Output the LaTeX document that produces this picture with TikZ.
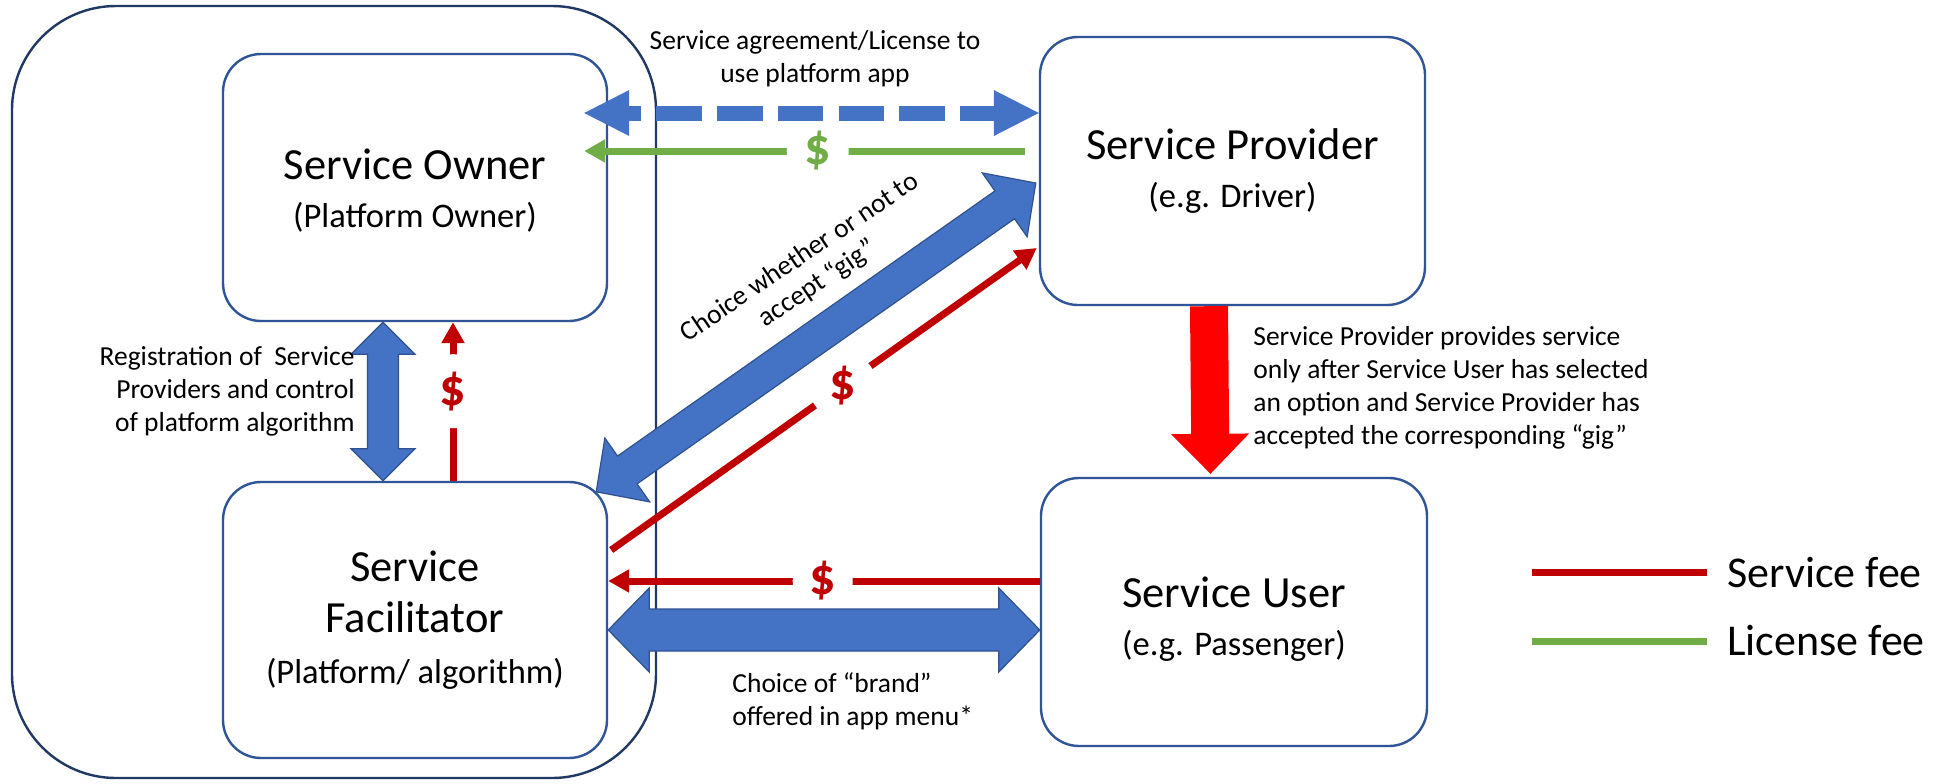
\documentclass[tikz,border=0pt]{standalone}
\usepackage{fontspec}
\setmainfont{Carlito}
\usetikzlibrary{arrows.meta,calc}

\definecolor{arrowblue}{HTML}{4472C4}
\definecolor{arrowedge}{HTML}{2F528F}
\definecolor{boxedge}{HTML}{2F5597}
\definecolor{outeredge}{HTML}{203864}
\definecolor{feered}{HTML}{C00000}
\definecolor{licgreen}{HTML}{70AD47}
\definecolor{bigred}{HTML}{FF0000}

\newcommand{\boxsub}{\fontsize{17.25pt}{24pt}\selectfont}

\tikzset{
  actor/.style={draw=boxedge, line width=1.2pt, fill=white, rounded corners=19pt,
    align=center, inner sep=0pt, font=\fontsize{22.25pt}{24pt}\selectfont},
  platformbox/.style={draw=outeredge, line width=1.2pt, rounded corners=52pt, inner sep=0pt},
  note/.style={inner sep=0pt, font=\fontsize{13.75pt}{16.5pt}\selectfont},
  legendtext/.style={inner sep=0pt, anchor=base west, font=\fontsize{22pt}{24pt}\selectfont},
  feeline/.style={draw=feered, line width=3.5pt, -{Triangle[length=10.5pt,width=11pt]}},
  licline/.style={draw=licgreen, line width=3.5pt, -{Triangle[length=10.5pt,width=11pt]}},
  dollar/.style={circle, fill=white, inner sep=0pt, font=\fontsize{26pt}{28pt}\selectfont\bfseries},
  blockblue/.style={fill=arrowblue, draw=arrowedge, line width=0.6pt},
  dashblue/.style={draw=arrowblue, line width=7.5pt, dash pattern=on 22.75pt off 7.6pt,
    dash phase=16.75pt,
    {Triangle[length=22.5pt,width=23pt,line width=0pt]}-{Triangle[length=22.5pt,width=23pt,line width=0pt]}},
  % double-headed block arrow: shaft half width, head half width, head length
  dblk/.style n args={3}{to path={
    let \p1=(\tikztostart), \p2=(\tikztotarget), \n1={atan2(\y2-\y1,\x2-\x1)} in
    (\p1) -- ($(\p1)+(\n1:#3)+(\n1+90:#2)$) -- ($(\p1)+(\n1:#3)+(\n1+90:#1)$)
    -- ($(\p2)+(\n1+180:#3)+(\n1+90:#1)$) -- ($(\p2)+(\n1+180:#3)+(\n1+90:#2)$) -- (\p2)
    -- ($(\p2)+(\n1+180:#3)+(\n1-90:#2)$) -- ($(\p2)+(\n1+180:#3)+(\n1-90:#1)$)
    -- ($(\p1)+(\n1:#3)+(\n1-90:#1)$) -- ($(\p1)+(\n1:#3)+(\n1-90:#2)$) -- cycle
  }},
  % single-headed block arrow
  sblk/.style n args={3}{to path={
    let \p1=(\tikztostart), \p2=(\tikztotarget), \n1={atan2(\y2-\y1,\x2-\x1)} in
    ($(\p1)+(\n1+90:#1)$) -- ($(\p2)+(\n1+180:#3)+(\n1+90:#1)$)
    -- ($(\p2)+(\n1+180:#3)+(\n1+90:#2)$) -- (\p2)
    -- ($(\p2)+(\n1+180:#3)+(\n1-90:#2)$) -- ($(\p2)+(\n1+180:#3)+(\n1-90:#1)$)
    -- ($(\p1)+(\n1-90:#1)$) -- cycle
  }},
}

\begin{document}
\begin{tikzpicture}[x=0.5pt, y=-0.5pt]
  % canvas
  \path[fill=white] (0,0) rectangle (1951,783);
  \useasboundingbox (0,0) rectangle (1951,783);

  % platform container and the four parties
  \node[platformbox, minimum width=322pt, minimum height=386pt] (platform) at (334,392) {};
  \node[actor, minimum width=192pt, minimum height=133.5pt] (owner) at (415,187.5)
    {\rule{0pt}{18pt}Service Owner\\{\boxsub (Platform Owner)}};
  \node[actor, minimum width=192pt, minimum height=138pt,
        font=\fontsize{22.25pt}{25.5pt}\selectfont] (facil) at (415,620)
    {Service\\Facilitator\\{\fontsize{17.25pt}{25.5pt}\selectfont (Platform/ algorithm)}};
  \node[actor, minimum width=192.5pt, minimum height=134pt] (prov) at (1232.5,171)
    {Service Provider\\{\boxsub (e.g. Driver)}};
  \node[actor, minimum width=193pt, minimum height=134pt] (user) at (1234,612)
    {\rule{0pt}{22.6pt}Service User\\{\boxsub (e.g. Passenger)}};

  % connector end points
  \coordinate (dL) at ($(owner.east |- 0,113)+(-12pt,0)$);
  \coordinate (dR) at (prov.west |- 0,113);
  \coordinate (gS) at ($(prov.west |- 0,151)+(-7pt,0)$);
  \coordinate (gE) at ($(owner.east |- 0,151)+(-12pt,0)$);
  \coordinate (cA) at ($(facil.north east)+(-6pt,-5.5pt)$);
  \coordinate (cB) at ($(prov.west)+(-1.5pt,-6pt)$);
  \coordinate (rdS) at ($(facil.east)+(1.5pt,35pt)$);
  \coordinate (rdE) at ($(prov.west)+(-1pt,-38.5pt)$);
  \coordinate (rhS) at (user.west |- 0,581);
  \coordinate (rhE) at (facil.east |- 0,581);
  \coordinate (bhA) at (facil.east |- 0,630);
  \coordinate (bhB) at (user.west |- 0,630);
  \coordinate (bvA) at ($(owner.south)+(-16pt,0)$);
  \coordinate (bvB) at ($(facil.north)+(-16pt,0)$);
  \coordinate (rvS) at ($(facil.north)+(19pt,0)$);
  \coordinate (rvE) at ($(owner.south)+(19pt,0)$);
  \coordinate (svA) at ($(prov.south)+(-11.75pt,0)$);
  \coordinate (svB) at ($(user.north)+(-11.75pt,1.5pt)$);

  % fee flows
  \draw[licline] (gS) -- node[dollar, pos=0.47, minimum size=31pt, text=licgreen] (gfee) {\$} (gE);
  \draw[feeline] (rdS) -- node[dollar, pos=0.544, minimum size=34pt, text=feered] (dfee) {\$} (rdE);
  \draw[feeline] (rhS) -- node[dollar, pos=0.503, minimum size=30pt, text=feered] (hfee) {\$} (rhE);
  \draw[feeline] (rvS) -- node[dollar, pos=0.565, minimum size=37pt, text=feered] (vfee) {\$} (rvE);

  % licence agreement
  \draw[dashblue] (dL) -- (dR);

  % interactions
  \draw[blockblue] (cA) to[dblk={8.5pt}{19.5pt}{19pt}] (cB);
  \draw[blockblue] (bhA) to[dblk={10.5pt}{21pt}{20.5pt}] (bhB);
  \draw[blockblue] (bvA) to[dblk={7.75pt}{16pt}{16pt}] (bvB);
  \draw[fill=bigred, draw=none] (svA) to[sblk={9.5pt}{19.5pt}{20pt}] (svB);

  % labels
  \node[note, align=center] (lictext) at (815,59) {Service agreement/License to\\use platform app};
  \node[note, align=right, anchor=east] (regtext) at (355,391)
    {Registration of\ \ Service\\Providers and control\\of platform algorithm};
  \node[note, align=center, rotate=34, font=\fontsize{13.75pt}{15.75pt}\selectfont] (gigtext) at (809,271)
    {Choice whether or not to\\accept “gig”};
  \node[note, align=left, anchor=west] (servtext) at (1253,388)
    {Service Provider provides service\\only after Service User has selected\\an option and Service Provider has\\accepted the corresponding “gig”};
  \node[note, align=left, anchor=west] (brandtext) at (732,701.5)
    {Choice of “brand”\\offered in app menu*};

  % legend
  \node[legendtext] (lgfee) at (1727,587) {Service fee};
  \node[legendtext] (lglic) at (1727,655) {License fee};
  \coordinate (lgfeeA) at (1532,572);
  \coordinate (lgfeeB) at (1707,572);
  \coordinate (lglicA) at (1532,641);
  \coordinate (lglicB) at (1707,641);
  \draw[draw=feered, line width=3.5pt] (lgfeeA) -- (lgfeeB);
  \draw[draw=licgreen, line width=3.5pt] (lglicA) -- (lglicB);
\end{tikzpicture}
\end{document}
